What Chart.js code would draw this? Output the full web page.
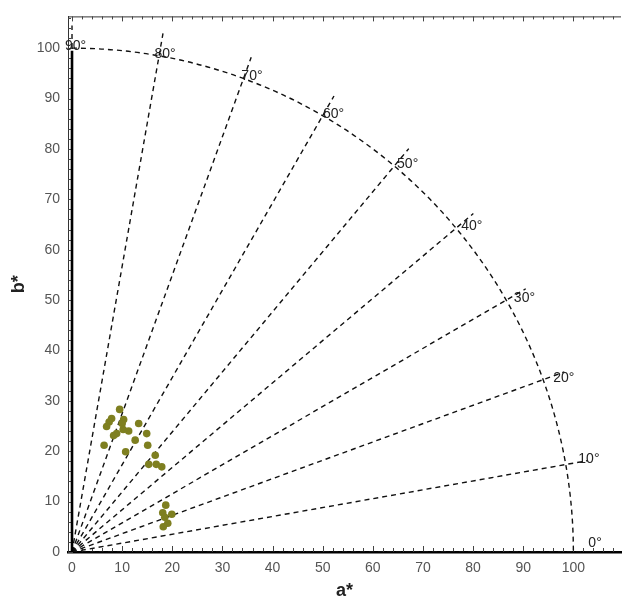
<!DOCTYPE html>
<html>
<head>
<meta charset="utf-8">
<script src="https://cdn.jsdelivr.net/npm/chart.js@4.4.1/dist/chart.umd.min.js"></script>
<style>
  html, body { margin: 0; padding: 0; background: #fff; }
  #wrap { width: 625px; height: 600px; }
</style>
</head>
<body>
<div id="wrap"><canvas id="grafico"></canvas></div>
<script>
// a* / b* of the samples
const aValues = [9.5, 7.9, 7.4, 6.9, 6.4, 10.3, 10.0, 10.2, 8.9, 8.3, 11.3, 13.3, 12.6, 10.7,
                 14.9, 15.1, 16.6, 15.3, 16.8, 17.9,
                 18.7, 18.1, 19.9, 18.5, 19.1, 18.2];
const bValues = [28.3, 26.5, 25.8, 24.9, 21.2, 26.3, 25.5, 24.3, 23.5, 23.1, 24.0, 25.5, 22.2, 19.9,
                 23.5, 21.2, 19.2, 17.4, 17.4, 16.9,
                 9.3, 7.8, 7.5, 6.9, 5.7, 5.0];
// hue angle guides (degrees) and chroma circle
const hueAngles = [0, 10, 20, 30, 40, 50, 60, 70, 80, 90];
const chromaCircle = 100;
const guideLength = 104.5;
const axisTicks = [0, 10, 20, 30, 40, 50, 60, 70, 80, 90, 100];

const FONT = '"Liberation Sans", Arial, sans-serif';

const polarGuides = {
    id: 'polarGuides',
    beforeDatasetsDraw(chart) {
        const { ctx, chartArea: ca, scales: { x, y } } = chart;
        const x0 = x.getPixelForValue(0), y0 = y.getPixelForValue(0);
        const rx = x.getPixelForValue(chromaCircle) - x0;
        const ry = y0 - y.getPixelForValue(chromaCircle);

        ctx.save();
        // thin frame top/left
        ctx.strokeStyle = '#333';
        ctx.lineWidth = 1;
        ctx.beginPath();
        ctx.moveTo(ca.left + 0.5, ca.bottom);
        ctx.lineTo(ca.left + 0.5, ca.top + 0.5);
        ctx.lineTo(ca.right, ca.top + 0.5);
        ctx.stroke();

        // small inward ticks
        ctx.strokeStyle = '#444';
        ctx.beginPath();
        for (let v = 0; v <= 108; v += 2) {
            const len = v % 10 === 0 ? 5 : 3;
            const px = Math.round(x.getPixelForValue(v)) + 0.5;
            ctx.moveTo(px, ca.top); ctx.lineTo(px, ca.top + len);
            ctx.moveTo(px, ca.bottom); ctx.lineTo(px, ca.bottom - len - 1);
        }
        for (let v = 0; v <= 106; v += 2) {
            const len = v % 10 === 0 ? 5 : 3;
            const py = Math.round(y.getPixelForValue(v)) + 0.5;
            ctx.moveTo(ca.left, py); ctx.lineTo(ca.left + len, py);
        }
        ctx.stroke();

        ctx.beginPath();
        ctx.rect(ca.left, ca.top, ca.width, ca.height);
        ctx.clip();

        // dashed hue lines + chroma arc
        ctx.setLineDash([5, 4]);
        ctx.lineWidth = 1.4;
        ctx.strokeStyle = '#111';
        hueAngles.forEach(deg => {
            const t = deg * Math.PI / 180;
            ctx.beginPath();
            ctx.moveTo(x0, y0);
            ctx.lineTo(x.getPixelForValue(guideLength * Math.cos(t)),
                       y.getPixelForValue(guideLength * Math.sin(t)));
            ctx.stroke();
        });
        ctx.beginPath();
        ctx.ellipse(x0, y0, rx, ry, 0, -Math.PI / 2, 0);
        ctx.stroke();

        // solid line along b* axis
        ctx.setLineDash([]);
        ctx.lineWidth = 2.6;
        ctx.strokeStyle = '#000';
        ctx.beginPath();
        ctx.moveTo(x0, y0);
        ctx.lineTo(x0, y.getPixelForValue(99.5));
        ctx.stroke();
        ctx.restore();

        // angle labels
        ctx.save();
        ctx.font = '14px ' + FONT;
        ctx.fillStyle = '#222';
        ctx.textAlign = 'left';
        ctx.textBaseline = 'middle';
        hueAngles.forEach(deg => {
            const t = deg * Math.PI / 180;
            const px = x.getPixelForValue(chromaCircle * Math.cos(t));
            const py = y.getPixelForValue(chromaCircle * Math.sin(t));
            const dx = -7 + 22 * (1 - deg / 90);
            const dy = -2 - 7 * Math.max(0, (20 - deg) / 20);
            ctx.fillText(deg + '°', px + dx, py + dy);
        });
        ctx.restore();
    }
};

new Chart(document.getElementById('grafico'), {
    type: 'scatter',
    data: {
        datasets: [{
            data: aValues.map((a, i) => ({ x: a, y: bValues[i] })),
            backgroundColor: '#7e7f20',
            borderWidth: 0,
            pointRadius: 3.8
        }]
    },
    options: {
        responsive: true,
        maintainAspectRatio: false,
        animation: false,
        layout: { padding: { top: 15, right: 0, left: 0, bottom: 0 } },
        plugins: { legend: { display: false }, tooltip: { enabled: false } },
        scales: {
            x: {
                type: 'linear',
                min: -0.8,
                max: 109.5,
                afterBuildTicks: s => { s.ticks = axisTicks.map(v => ({ value: v })); },
                afterFit: s => { s.height = 48; },
                ticks: { color: '#555', font: { size: 14, family: FONT }, padding: 8, maxRotation: 0, autoSkip: false },
                grid: { display: false, drawTicks: false },
                border: { color: '#000', width: 2.6 },
                title: { display: true, text: 'a*', color: '#222', font: { size: 18, weight: 'bold', family: FONT }, padding: { top: 0, bottom: -2 } }
            },
            y: {
                type: 'linear',
                min: 0,
                max: 106.3,
                afterBuildTicks: s => { s.ticks = axisTicks.map(v => ({ value: v })); },
                afterFit: s => { s.width = 68; },
                ticks: { color: '#555', font: { size: 14, family: FONT }, padding: 8, autoSkip: false },
                grid: { display: false, drawTicks: false },
                border: { color: '#333', width: 1 },
                title: { display: true, text: 'b*', color: '#222', font: { size: 18, weight: 'bold', family: FONT }, padding: { top: 8, bottom: 0 } }
            }
        }
    },
    plugins: [polarGuides]
});
</script>
</body>
</html>
